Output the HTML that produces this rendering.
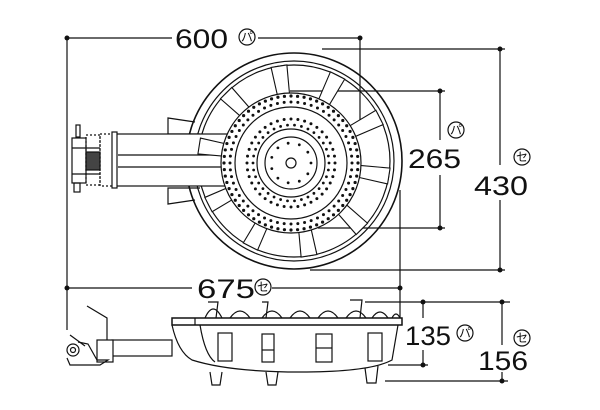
<!DOCTYPE html>
<html><head><meta charset="utf-8"><style>
html,body{margin:0;padding:0;background:#fff;width:600px;height:410px;overflow:hidden}
svg{display:block}
text{font-family:"Liberation Sans","Noto Sans CJK JP",sans-serif;fill:#111}
</style></head><body>
<svg id="s" width="600" height="410" viewBox="0 0 600 410" xmlns="http://www.w3.org/2000/svg">
<g stroke="#111" stroke-width="1.2" fill="none">
<line x1="67" y1="38" x2="172" y2="38"/><line x1="258" y1="38" x2="360" y2="38"/>
<line x1="67" y1="38" x2="67" y2="330"/>
<line x1="360" y1="38" x2="360" y2="123"/>
<line x1="322" y1="49" x2="505" y2="49"/>
<line x1="290" y1="91" x2="445" y2="91"/>
<line x1="318" y1="228" x2="445" y2="228"/>
<line x1="310" y1="270" x2="505" y2="270"/>
<line x1="440" y1="91" x2="440" y2="140"/><line x1="440" y1="175" x2="440" y2="228"/>
<line x1="500" y1="49" x2="500" y2="165"/><line x1="500" y1="200" x2="500" y2="270"/>
<line x1="400" y1="190" x2="400" y2="318"/>
<line x1="67" y1="288" x2="192" y2="288"/><line x1="272" y1="288" x2="400" y2="288"/>
<line x1="365" y1="302" x2="510" y2="302"/>
<line x1="423" y1="302" x2="423" y2="318"/><line x1="423" y1="350" x2="423" y2="365"/>
<line x1="388" y1="365" x2="428" y2="365"/>
<line x1="502" y1="302" x2="502" y2="345"/><line x1="502" y1="372" x2="502" y2="381"/>
<line x1="385" y1="381" x2="508" y2="381"/>
<circle cx="294" cy="161" r="108" stroke-width="1.6"/>
<circle cx="294" cy="161" r="100"/>
<circle cx="294" cy="161" r="96"/>
<path d="M195 122 L168 118 L168 134 L200 134"/>
<path d="M195 200 L168 204 L168 188 L200 188"/>
<rect x="115" y="134" width="115" height="52" fill="#fff"/>
<line x1="118" y1="155" x2="232" y2="155"/><line x1="118" y1="167" x2="232" y2="167"/>
<rect x="100" y="134" width="16" height="52" stroke-dasharray="2 2" fill="#fff"/>
<rect x="112" y="132" width="5" height="56" fill="#fff"/>
<rect x="72" y="138" width="14" height="45"/>
<rect x="76" y="125" width="4" height="12"/>
<rect x="74" y="183" width="6" height="9"/>
<line x1="72" y1="148" x2="100" y2="148"/><line x1="72" y1="174" x2="100" y2="174"/>
<rect x="86" y="152" width="14" height="18" fill="#444"/>
<rect x="86" y="135" width="14" height="50" stroke-dasharray="2 2"/>
<g id="sup"></g>
<circle cx="291" cy="163" r="70" fill="#fff"/>
<circle cx="291" cy="163" r="56"/>
<circle cx="291" cy="163" r="34"/>
<circle cx="291" cy="163" r="26"/>
<circle cx="291" cy="163" r="5"/>
<path d="M172 318 L402 318 L402 325 L172 325 Z" fill="#fff" stroke-width="1.5"/>
<path d="M172 325 Q178 352 192 360 Q230 372 300 372 Q370 372 392 360 L398 325"/>
<path d="M195 318 L195 325 M200 325 Q205 355 215 362"/>
<path d="M210 372 L212 385 L220 385 L222 372 M266 372 L268 385 L276 385 L278 372 M365 368 L367 383 L376 383 L378 366"/>
<rect x="218" y="333" width="14" height="28"/><rect x="262" y="334" width="12" height="28"/>
<rect x="316" y="334" width="16" height="28"/><rect x="368" y="333" width="14" height="28"/>
<line x1="316" y1="348" x2="332" y2="348"/><line x1="262" y1="350" x2="274" y2="350"/>
<path d="M205 318 Q213 300 222 318 M230 318 Q240 304 250 318 M262 318 Q272 304 282 318 M290 318 Q300 304 310 318 M318 318 Q328 304 338 318 M346 318 Q356 304 366 318 M372 318 Q380 306 388 318 M392 318 Q396 310 400 318"/>
<path d="M208 302 L218 302 L216 318 M262 302 L268 302 L266 318 M350 300 L362 300 L360 318"/>
<rect x="112" y="340" width="60" height="16" fill="#fff"/>
<rect x="97" y="340" width="16" height="22" fill="#fff"/>
<path d="M87 306 L107 318 L107 340"/>
<circle cx="73" cy="350" r="6"/><circle cx="73" cy="350" r="2.5"/>
<path d="M67 358 L70 365 L100 365 L108 360 L97 360 L88 344 L78 342"/>
<path d="M70 335 L85 346"/>
</g>
<g fill="#111" id="dots"></g>
<g fill="#111">
<circle cx="67" cy="38" r="2.5"/><circle cx="360" cy="38" r="2.5"/>
<circle cx="440" cy="91" r="2.5"/><circle cx="440" cy="228" r="2.5"/>
<circle cx="500" cy="49" r="2.5"/><circle cx="500" cy="270" r="2.5"/>
<circle cx="67" cy="288" r="2.5"/><circle cx="400" cy="288" r="2.5"/>
<circle cx="423" cy="302" r="2.5"/><circle cx="423" cy="365" r="2.5"/>
<circle cx="502" cy="302" r="2.5"/><circle cx="502" cy="381" r="2.5"/>
</g>
<g font-size="27">
<text x="175" y="48" textLength="53" lengthAdjust="spacingAndGlyphs">600</text>
<text x="408" y="168" textLength="53" lengthAdjust="spacingAndGlyphs">265</text>
<text x="474" y="195" textLength="54" lengthAdjust="spacingAndGlyphs">430</text>
<text x="197" y="298" textLength="58" lengthAdjust="spacingAndGlyphs">675</text>
<text x="405" y="345" textLength="46" lengthAdjust="spacingAndGlyphs">135</text>
<text x="478" y="370" textLength="50" lengthAdjust="spacingAndGlyphs">156</text>
</g>
<g fill="none" stroke="#111" stroke-width="1.2">
<circle cx="247" cy="37" r="8"/><circle cx="456" cy="130" r="8"/><circle cx="522" cy="157" r="8"/>
<circle cx="263" cy="287" r="8"/><circle cx="465" cy="333" r="8"/><circle cx="522" cy="338" r="8"/>
</g>
<g font-size="12" text-anchor="middle">
<text x="247" y="41">パ</text><text x="456" y="134">パ</text><text x="522" y="161">セ</text>
<text x="263" y="291">セ</text><text x="465" y="337">パ</text><text x="522" y="342">セ</text>
</g>
</svg>
<script>
var NS="http://www.w3.org/2000/svg",d=document.getElementById("dots"),s=document.getElementById("sup");
function dot(x,y,r){var c=document.createElementNS(NS,"circle");c.setAttribute("cx",x);c.setAttribute("cy",y);c.setAttribute("r",r);d.appendChild(c);}
[[67,64,1.6],[61,56,1.5],[44,40,1.5],[38,34,1.4],[20,11,1.4]].forEach(function(a){for(var i=0;i<a[1];i++){var t=2*Math.PI*i/a[1];dot(291+a[0]*Math.cos(t),163+a[0]*Math.sin(t),a[2]);}});
for(var i=0;i<10;i++){var t=2*Math.PI*(i+0.25)/10,c=Math.cos(t),n=Math.sin(t);
var p=[[66,-6],[96,-8],[96,8],[66,6]].map(function(q){return (294+q[0]*c-q[1]*n)+","+(161+q[0]*n+q[1]*c)}).join(" ");
var g=document.createElementNS(NS,"polygon");g.setAttribute("points",p);g.setAttribute("fill","#fff");g.setAttribute("stroke","#111");g.setAttribute("stroke-width","1.1");s.appendChild(g);}
</script>
</body></html>
